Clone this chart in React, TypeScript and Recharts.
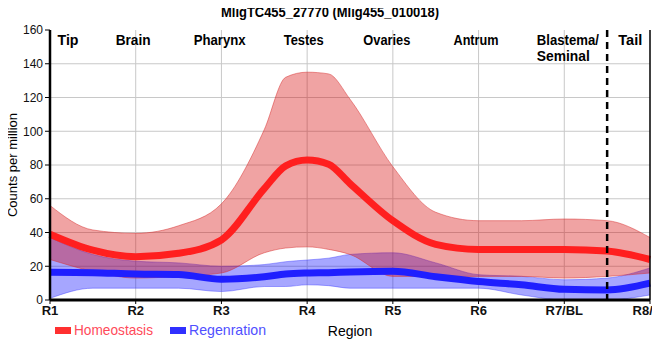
import { ComposedChart, Area, Line, XAxis, YAxis, CartesianGrid, ReferenceLine } from 'recharts';

const regions = ['R1', 'R2', 'R3', 'R4', 'R5', 'R6', 'R7/BL', 'R8/T'];

// the curves are read at every region, half-way between regions, and twice more round the R4 peak
const samplePos = [0, 0.5, 1, 1.5, 2, 2.5, 2.75, 3, 3.25, 3.5, 4, 4.5, 5, 5.5, 6, 6.5, 7];

// Homeostasis: mean and spread
const homeoMean = [39, 29.5, 25.7, 27.7, 35.6, 66, 79.5, 83, 80.5, 69, 47, 33, 30, 30, 30, 29, 24];
const homeoLow = [24, 17, 13, 14, 16, 28, 30.8, 31.5, 30, 27, 14, 14, 14, 14, 13, 14, 16];
const homeoHigh = [56, 41.5, 39.5, 44, 57, 101, 132, 135, 134, 119, 79, 52, 47, 47, 48, 47, 37];

// Regeneration: mean and spread
const regenMean = [16.5, 16.2, 15.4, 15.1, 12.3, 13.8, 15.4, 16, 16.2, 16.6, 17, 13.8, 11, 9, 6.3, 6, 10];
const regenLow = [1, 7, 7, 7, 5, 8, 8, 9, 8.5, 7, 7, 7, 7, 3, 0, 0, 3];
const regenHigh = [37, 27, 23, 22, 20, 21, 22.7, 23.7, 24.8, 27, 28, 22, 15, 14, 12, 13, 19];

const yTicks = [0, 20, 40, 60, 80, 100, 120, 140, 160];

// body-part names along the top, with where each sits on the region axis
const partNames = ['Tip', 'Brain', 'Pharynx', 'Testes', 'Ovaries', 'Antrum', 'Blastema/', 'Seminal', 'Tail'];
const partAt = [0.21, 0.97, 1.98, 2.96, 3.93, 4.97, 5.68, 5.68, 6.77];
const tailBoundary = 6.5;

const font = '"Liberation Sans", Arial, sans-serif';

const data = samplePos.map((x, i) => ({
  x,
  homeo: homeoMean[i],
  homeoBand: [homeoLow[i], homeoHigh[i]],
  regen: regenMean[i],
  regenBand: [regenLow[i], regenHigh[i]],
}));

// rough widths of the condensed bold labels in the original
const partWidth: Record<string, number> = {
  Tip: 21, Brain: 35, Pharynx: 52, Testes: 40, Ovaries: 47, Antrum: 45, 'Blastema/': 62, Seminal: 53, Tail: 24,
};

const PartLabel = ({ viewBox, name }: any) => {
  const leftAligned = name === 'Blastema/' || name === 'Seminal';
  return (
    <text
      x={viewBox.x}
      y={viewBox.y + (name === 'Seminal' ? 31 : 15)}
      textAnchor={leftAligned ? 'start' : 'middle'}
      fontFamily={font}
      fontWeight="bold"
      fontSize={14}
      textLength={partWidth[name]}
      lengthAdjust="spacingAndGlyphs"
      fill="#000"
    >
      {name}
    </text>
  );
};

export default function App() {
  return (
    <div style={{ position: 'relative', width: 660, height: 352, marginLeft: -8, marginTop: -8 }}>
      <ComposedChart width={660} height={352} data={data} margin={{ top: 30, right: 10, bottom: 22, left: 0 }}>
        <CartesianGrid
          stroke="#c8c8c8"
          horizontalValues={[20, 40, 60, 80, 100, 120, 140]}
          verticalValues={[1, 2, 3, 4, 5, 6]}
        />
        <XAxis
          dataKey="x"
          type="number"
          domain={[0, 7]}
          ticks={[0, 1, 2, 3, 4, 5, 6, 7]}
          tickFormatter={(v: number) => regions[v]}
          height={30}
          axisLine={{ stroke: '#000', strokeWidth: 3 }}
          tickLine={{ stroke: '#000' }}
          tickSize={4}
          tick={{ fontFamily: font, fontWeight: 'bold', fontSize: 13, fill: '#111' }}
          label={{ value: 'Region', position: 'bottom', offset: -4, fontFamily: font, fontSize: 14, fill: '#000' }}
        />
        <YAxis
          domain={[0, 160]}
          ticks={yTicks}
          allowDataOverflow
          width={50}
          axisLine={{ stroke: '#000', strokeWidth: 2.5 }}
          tickLine={{ stroke: '#000' }}
          tickSize={5}
          tick={{ fontFamily: font, fontSize: 12, fill: '#111' }}
          label={{ value: 'Counts per million', angle: -90, position: 'insideLeft', offset: 12, fontFamily: font, fontSize: 13, fill: '#000', style: { textAnchor: 'middle' } }}
        />
        <Area
          type="monotone"
          dataKey="regenBand"
          fill="#0000ff"
          fillOpacity={0.35}
          stroke="#3030ff"
          strokeOpacity={0.4}
          isAnimationActive={false}
        />
        <Line type="monotone" dataKey="regen" stroke="#1f1fff" strokeWidth={7} dot={false} isAnimationActive={false} />
        <Area
          type="monotone"
          dataKey="homeoBand"
          fill="#d50000"
          fillOpacity={0.36}
          stroke="#d83030"
          strokeOpacity={0.5}
          isAnimationActive={false}
        />
        <Line type="monotone" dataKey="homeo" stroke="#ff1f1f" strokeWidth={7} dot={false} isAnimationActive={false} />
        <ReferenceLine x={7} stroke="#000" strokeWidth={1.5} />
        <ReferenceLine
          segment={[{ x: tailBoundary, y: 160 }, { x: tailBoundary, y: -3 }]}
          ifOverflow="visible"
          stroke="#000"
          strokeWidth={2.5}
          strokeDasharray="7 5"
        />
        {partNames.map((name, i) => (
          <ReferenceLine
            key={name}
            x={partAt[i]}
            stroke="none"
            label={(props: any) => <PartLabel {...props} name={name} />}
          />
        ))}
      </ComposedChart>
      <svg width={660} height={352} style={{ position: 'absolute', left: 0, top: 0, pointerEvents: 'none' }}>
        <text x={330} y={17} textAnchor="middle" fontFamily={font} fontWeight="bold" fontSize={14} textLength={218} lengthAdjust="spacingAndGlyphs" fill="#000">
          MligTC455_27770 (Mlig455_010018)
        </text>
        <rect x={55} y={327} width={16} height={7} fill="#ff3030" />
        <text x={74} y={335} fontFamily={font} fontSize={15} textLength={79} lengthAdjust="spacingAndGlyphs" fill="#ff4a5a">
          Homeostasis
        </text>
        <rect x={170} y={327} width={16} height={7} fill="#3030ff" />
        <text x={189} y={335} fontFamily={font} fontSize={15} textLength={77} lengthAdjust="spacingAndGlyphs" fill="#5050ff">
          Regenration
        </text>
      </svg>
    </div>
  );
}
